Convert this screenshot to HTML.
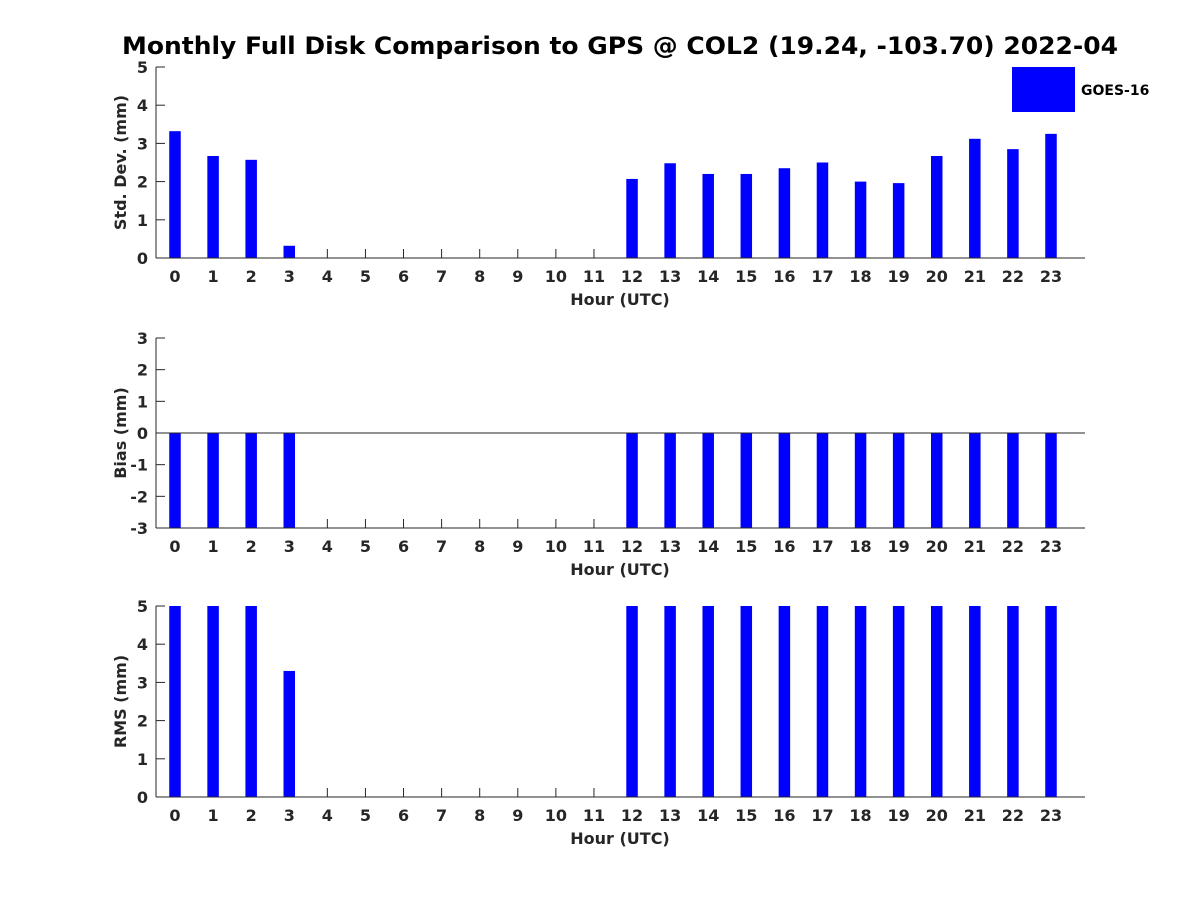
<!DOCTYPE html>
<html><head><meta charset="utf-8"><style>
body{margin:0;background:#fff}
svg{display:block;font-family:"DejaVu Sans","Liberation Sans",sans-serif;font-weight:bold}
</style></head><body>
<svg id="c" width="1200" height="900">
<text x="122" y="54" font-size="24" fill="#000" textLength="996" lengthAdjust="spacingAndGlyphs">Monthly Full Disk Comparison to GPS @ COL2 (19.24, -103.70) 2022-04</text>
<rect x="1012" y="67" width="63" height="45" fill="#0000ff"/>
<text x="1081" y="95" font-size="14" fill="#000">GOES-16</text>
</svg>
<script>
const hours=[0,1,2,3,4,5,6,7,8,9,10,11,12,13,14,15,16,17,18,19,20,21,22,23];
const stdVals=[3.32,2.67,2.57,0.32,null,null,null,null,null,null,null,null,2.07,2.48,2.2,2.2,2.35,2.5,2.0,1.96,2.67,3.12,2.85,3.25];
const biasVals=[-8,-8,-8,-8,null,null,null,null,null,null,null,null,-8,-8,-8,-8,-8,-8,-8,-8,-8,-8,-8,-8];
const rmsVals=[8,8,8,3.3,null,null,null,null,null,null,null,null,8,8,8,8,8,8,8,8,8,8,8,8];
const stdTicks=[0,1,2,3,4,5];
const biasTicks=[-3,-2,-1,0,1,2,3];
const rmsTicks=[0,1,2,3,4,5];
const svg=document.getElementById('c');
const NS='http://www.w3.org/2000/svg';
function mk(t,a){const e=document.createElementNS(NS,t);for(const k in a)e.setAttribute(k,a[k]);svg.appendChild(e);return e;}
const X0=156,X1=1085;
function xs(h){return 175+h*(1051-175)/23;}
function panel(key,vals,ticks,ymin,ymax,top,bot,ylabel){
  const ys=v=>bot-(v-ymin)/(ymax-ymin)*(bot-top);
  const cl=v=>Math.max(ymin,Math.min(ymax,v));
  hours.forEach(h=>{
    const t=mk('line',{x1:xs(h),y1:bot,x2:xs(h),y2:bot-9,stroke:'#262626','stroke-width':1});
    
    
    const l=mk('text',{x:xs(h),y:bot+24,'text-anchor':'middle','font-size':16,fill:'#262626'});
    l.textContent=h;
    
    
  });
  vals.forEach((v,i)=>{
    if(v===null)return;
    const a=ys(cl(0)),b=ys(cl(v));
    const r=mk('rect',{x:xs(hours[i])-5.75,y:Math.min(a,b),width:11.5,height:Math.abs(a-b),fill:'#0000ff'});
    
    
  });
  const ax=mk('line',{x1:X0,y1:bot,x2:X1,y2:bot,stroke:'#262626','stroke-width':1});
  
  
  const ay=mk('line',{x1:X0,y1:top,x2:X0,y2:bot,stroke:'#262626','stroke-width':1});
  
  
  if(ymin<0&&ymax>0){
    const z=mk('line',{x1:X0,y1:ys(0),x2:X1,y2:ys(0),stroke:'#262626','stroke-width':1});
    
    
  }
  ticks.forEach(v=>{
    const t=mk('line',{x1:X0,y1:ys(v),x2:X0+9,y2:ys(v),stroke:'#262626','stroke-width':1});
    
    
    const l=mk('text',{x:X0-8,y:ys(v)+6,'text-anchor':'end','font-size':16,fill:'#262626'});
    l.textContent=v;
    
    
  });
  const xt=mk('text',{x:620,y:bot+47,'text-anchor':'middle','font-size':16,fill:'#262626'});
  xt.textContent='Hour (UTC)';
  
  
  const cy=(top+bot)/2;
  const yt=mk('text',{x:126,y:cy,'text-anchor':'middle','font-size':16,fill:'#262626',transform:'rotate(-90 126 '+cy+')'});
  yt.textContent=ylabel;
  
  
}
panel('std',stdVals,stdTicks,0,5,67,258,'Std. Dev. (mm)');
panel('bias',biasVals,biasTicks,-3,3,338,528,'Bias (mm)');
panel('rms',rmsVals,rmsTicks,0,5,606,797,'RMS (mm)');
</script>
</body></html>
